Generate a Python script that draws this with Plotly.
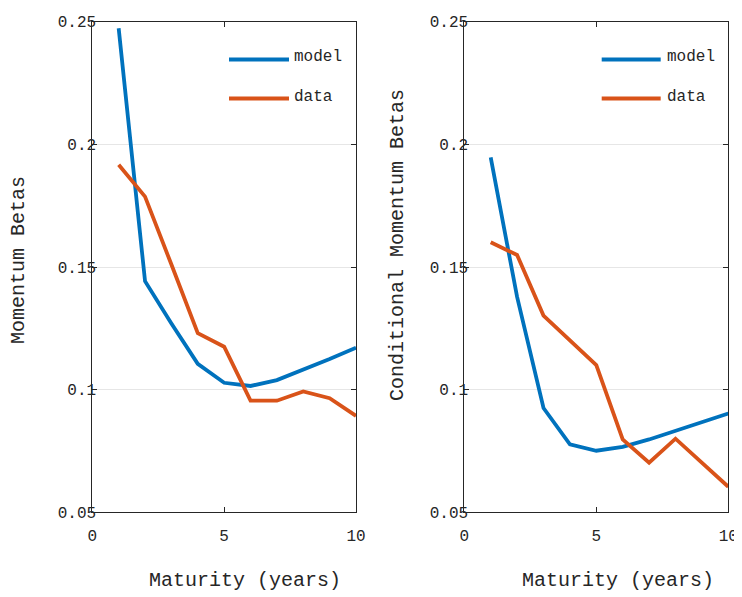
import plotly.graph_objects as go

maturity = [1, 2, 3, 4, 5, 6, 7, 8, 9, 10]
model_uncond = [0.2473, 0.1442, 0.1270, 0.1105, 0.1028, 0.1015, 0.1039, 0.1080, 0.1125, 0.1171]
data_uncond = [0.1917, 0.1787, 0.1510, 0.1230, 0.1175, 0.0955, 0.0955, 0.0993, 0.0965, 0.0893]
model_cond = [0.1947, 0.1378, 0.0925, 0.0777, 0.0751, 0.0767, 0.0797, 0.0833, 0.0868, 0.0903]
data_cond = [0.1601, 0.1549, 0.1302, 0.1200, 0.1100, 0.0797, 0.0702, 0.0800, 0.0702, 0.0604]

x_ticks = [0, 5, 10]
y_ticks = [0.05, 0.1, 0.15, 0.2, 0.25]
y_ticklabels = ["0.05", "0.1", "0.15", "0.2", "0.25"]

BLUE = "#0072BD"
ORANGE = "#D95319"
AX = "#262626"
FONT = "Liberation Mono, Courier New, monospace"
OFF = 8  # page body margin
W, H = 742 - OFF, 597 - OFF
LW = 3.8

def px(x):
    return (x - OFF) / W

def py(y):
    return 1 - (y - OFF) / H

fig = go.Figure()
fig.add_trace(go.Scatter(x=maturity, y=model_uncond, mode="lines", name="model",
                         line=dict(color=BLUE, width=LW), xaxis="x", yaxis="y", showlegend=False))
fig.add_trace(go.Scatter(x=maturity, y=data_uncond, mode="lines", name="data",
                         line=dict(color=ORANGE, width=LW), xaxis="x", yaxis="y", showlegend=False))
fig.add_trace(go.Scatter(x=maturity, y=model_cond, mode="lines", name="model",
                         line=dict(color=BLUE, width=LW), xaxis="x2", yaxis="y2", showlegend=False))
fig.add_trace(go.Scatter(x=maturity, y=data_cond, mode="lines", name="data",
                         line=dict(color=ORANGE, width=LW), xaxis="x2", yaxis="y2", showlegend=False))

xcommon = dict(range=[0, 10], tickvals=x_ticks, ticks="inside", ticklen=5, tickcolor=AX,
               showline=True, linecolor=AX, linewidth=1, mirror="ticks", showgrid=False,
               zeroline=False, tickfont=dict(family=FONT, size=16, color=AX),
               ticklabelstandoff=8, automargin=False)
ycommon = dict(range=[0.05, 0.25], tickvals=y_ticks, ticktext=y_ticklabels, ticks="inside",
               ticklen=5, tickcolor=AX, showline=True, linecolor=AX, linewidth=1, mirror="ticks",
               showgrid=True, gridcolor="#e6e6e6", gridwidth=1, zeroline=False,
               tickfont=dict(family=FONT, size=16, color=AX), ticklabelstandoff=-8,
               automargin=False)

fig.update_layout(
    width=W, height=H,
    margin=dict(l=0, r=0, t=0, b=0),
    paper_bgcolor="white", plot_bgcolor="white",
    xaxis=dict(domain=[px(92.3), px(356.0)], anchor="y", **xcommon),
    yaxis=dict(domain=[py(512.3), py(21.7)], anchor="x", **ycommon),
    xaxis2=dict(domain=[px(464.3), px(728.3)], anchor="y2", **xcommon),
    yaxis2=dict(domain=[py(512.3), py(21.7)], anchor="x2", **ycommon),
)

annotations = []
shapes = []

def text(x, y, s, size=20, angle=0, xanchor="center"):
    annotations.append(dict(x=px(x), y=py(y), xref="paper", yref="paper", text=s,
                            showarrow=False, textangle=angle, xanchor=xanchor, yanchor="middle",
                            font=dict(family=FONT, size=size, color=AX)))

text(18, 260, "Momentum Betas", angle=-90)
text(397, 245, "Conditional Momentum Betas", angle=-90)
text(245, 580, "Maturity (years)")
text(617.5, 580, "Maturity (years)")

# legends
for (x0, x1, tx) in [(229, 289, 292), (601.7, 660.7, 664.5)]:
    for (yy, col, name) in [(59.5, BLUE, "model"), (98.5, ORANGE, "data")]:
        shapes.append(dict(type="line", xref="paper", yref="paper", x0=px(x0), x1=px(x1),
                           y0=py(yy), y1=py(yy), line=dict(color=col, width=LW)))
        text(tx, yy - 2, name, size=16, xanchor="left")

fig.update_layout(annotations=annotations, shapes=shapes)
fig.write_html("out.html")
